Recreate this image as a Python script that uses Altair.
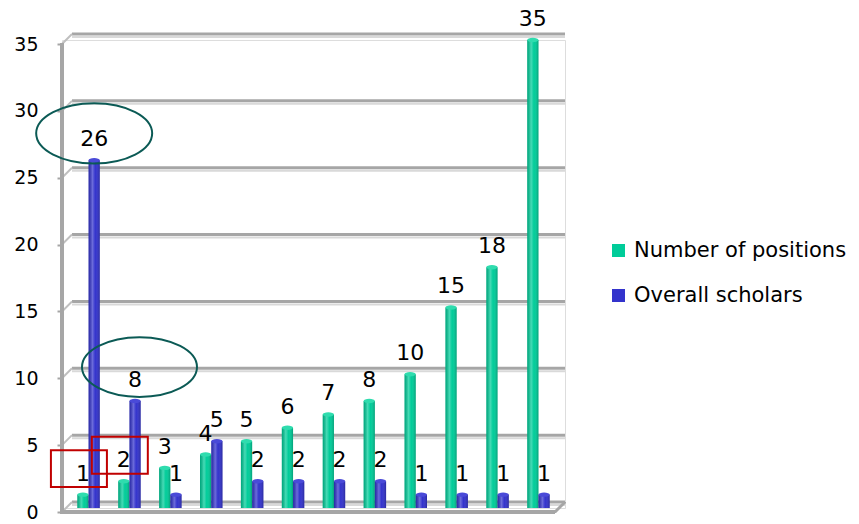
import altair as alt
import pandas as pd

# Source values
groups = [f"Group {i}" for i in range(1, 13)]
positions = [1, 2, 3, 4, 5, 6, 7, 8, 10, 15, 18, 35]
scholars = [26, 8, 1, 5, 2, 2, 2, 2, 1, 1, 1, 1]
series_names = ["Number of positions", "Overall scholars"]
series_colors = ["#00CC99", "#3333CC"]
y_ticks = [0, 5, 10, 15, 20, 25, 30, 35]

rows = []
for g, p, s in zip(groups, positions, scholars):
    rows.append({"group": g, "series": series_names[0], "value": p})
    rows.append({"group": g, "series": series_names[1], "value": s})
df = pd.DataFrame(rows)
ticks_df = pd.DataFrame({"v": y_ticks})

FONT = "DejaVu Sans"
GRID = "#A6A6A6"
W, H = 503, 468

yscale = alt.Scale(domain=[0, 35], nice=False, zero=True)
yaxis = alt.Axis(values=y_ticks, domain=False, grid=False,
                 tickColor=GRID, tickSize=5, tickWidth=2,
                 tickOffset=4, labelPadding=19,
                 labelFont=FONT, labelFontSize=19,
                 labelColor="black", title=None)
xenc = alt.X("group:N", sort=groups, axis=None,
             scale=alt.Scale(paddingInner=0.45, paddingOuter=0.374))
xoff = alt.XOffset("series:N", sort=series_names,
                   scale=alt.Scale(domain=series_names,
                                   paddingInner=0, paddingOuter=0))

# back-wall gridlines with a soft shadow line
grid_shadow = alt.Chart(ticks_df).mark_rule(
    color="#D9D9D9", strokeWidth=2, yOffset=-3
).encode(y=alt.Y("v:Q", scale=yscale, axis=yaxis),
         x=alt.value(10), x2=alt.value(W))
grid = alt.Chart(ticks_df).mark_rule(
    color=GRID, strokeWidth=3, yOffset=-6
).encode(y=alt.Y("v:Q", scale=yscale),
         x=alt.value(10), x2=alt.value(W))
# diagonal joins from the axis to the back wall
diag = alt.Chart(ticks_df).mark_rule(
    color="#BFBFBF", strokeWidth=2, yOffset=4, y2Offset=-6
).encode(y=alt.Y("v:Q", scale=yscale), y2="v:Q",
         x=alt.value(0), x2=alt.value(10))
# left axis line
axis_line = alt.Chart(ticks_df).mark_rule(
    color=GRID, strokeWidth=3, yOffset=3, y2Offset=6
).encode(y=alt.Y(datum=35, scale=yscale), y2=alt.Y2(datum=0), x=alt.value(0))
# floor: front edge and right end
floor_front = alt.Chart(ticks_df).mark_rule(
    color=GRID, strokeWidth=3, yOffset=4
).encode(y=alt.Y(datum=0, scale=yscale), x=alt.value(0), x2=alt.value(W - 10))
floor_side = alt.Chart(ticks_df).mark_rule(
    color=GRID, strokeWidth=2, yOffset=4, y2Offset=-6
).encode(y=alt.Y(datum=0, scale=yscale), y2=alt.Y2(datum=0),
         x=alt.value(W - 10), x2=alt.value(W))

bars = alt.Chart(df).mark_bar().encode(
    x=xenc, xOffset=xoff,
    y=alt.Y("value:Q", scale=yscale),
    color=alt.Color("series:N", sort=series_names,
                    scale=alt.Scale(domain=series_names, range=series_colors),
                    legend=alt.Legend(title=None, orient="none",
                                      legendX=546, legendY=200,
                                      symbolType="square", symbolSize=169,
                                      symbolStrokeWidth=0,
                                      labelFont=FONT, labelFontSize=21,
                                      labelColor="black", labelOffset=5,
                                      labelLimit=0, rowPadding=23)),
)

# cylinder shading
shade = alt.Chart(df).mark_bar(
    fill=alt.LinearGradient(
        gradient="linear", x1=0, x2=1, y1=0, y2=0,
        stops=[alt.GradientStop(color="rgba(0,0,0,0.18)", offset=0),
               alt.GradientStop(color="rgba(255,255,255,0.28)", offset=0.35),
               alt.GradientStop(color="rgba(255,255,255,0)", offset=0.6),
               alt.GradientStop(color="rgba(0,0,0,0.22)", offset=1)])
).encode(x=xenc, xOffset=xoff, y=alt.Y("value:Q", scale=yscale))

ELLIPSE_CAP = "M -1 0 A 1 0.4 0 1 0 1 0 A 1 0.4 0 1 0 -1 0 Z"
caps = alt.Chart(df).mark_point(
    shape=ELLIPSE_CAP, size=125, filled=True, opacity=1, strokeWidth=0
).encode(
    x=xenc, xOffset=xoff, y=alt.Y("value:Q", scale=yscale),
    fill=alt.condition("datum.series == 'Number of positions'",
                       alt.value("#2FDCAE"), alt.value("#4A4AD8")),
)

labels = alt.Chart(df).mark_text(
    font=FONT, fontSize=22, color="black", baseline="alphabetic", dy=-14
).encode(x=xenc, xOffset=xoff, y=alt.Y("value:Q", scale=yscale),
         text="value:Q")

# highlight ellipses around the two largest scholar counts
ring_a = alt.Chart(df).transform_filter(
    (alt.datum.series == series_names[1]) & (alt.datum.group == groups[0])
).mark_point(
    shape="M -1 0 A 1 0.52 0 1 0 1 0 A 1 0.52 0 1 0 -1 0 Z",
    size=13456, filled=False, opacity=1, stroke="#0B5A55", strokeWidth=2,
    yOffset=-27,
).encode(x=xenc, xOffset=xoff, y=alt.Y("value:Q", scale=yscale))
ring_b = alt.Chart(df).transform_filter(
    (alt.datum.series == series_names[1]) & (alt.datum.group == groups[1])
).mark_point(
    shape="M -0.923 0 A 1 0.52 0 1 0 1.077 0 A 1 0.52 0 1 0 -0.923 0 Z",
    size=13225, filled=False, opacity=1, stroke="#0B5A55", strokeWidth=2,
    yOffset=-34,
).encode(x=xenc, xOffset=xoff, y=alt.Y("value:Q", scale=yscale))

# boxes around the two smallest position counts
boxes = alt.Chart(df).transform_filter(
    (alt.datum.series == series_names[0])
    & ((alt.datum.group == groups[0]) | (alt.datum.group == groups[1]))
).mark_point(
    shape="M -1.143 -0.66 L 0.857 -0.66 L 0.857 0.66 L -1.143 0.66 Z",
    size=3136, filled=False, opacity=1, stroke="#C00000", strokeWidth=2,
    yOffset=-26,
).encode(x=xenc, xOffset=xoff, y=alt.Y("value:Q", scale=yscale))

chart = alt.layer(
    grid_shadow, grid, diag, axis_line, floor_front, floor_side,
    bars, shade, caps, labels, ring_a, ring_b, boxes,
).properties(
    width=W, height=H,
    autosize=alt.AutoSizeParams(type="none"),
    padding={"left": 62, "top": 40, "right": 294, "bottom": 16},
).configure_view(stroke=None).configure(background="white")

chart.save("out.html", embed_options={"renderer": "svg", "actions": False})
